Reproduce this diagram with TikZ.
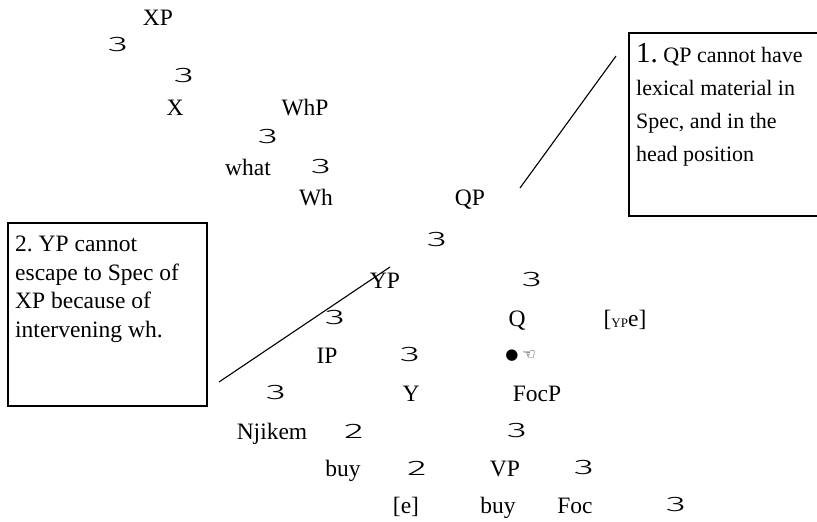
\documentclass[tikz,border=0pt]{standalone}
\usepackage{fontspec}
\usepackage{graphicx}
\setmainfont{Liberation Serif}
\newfontfamily\symfont{DejaVu Sans}
\IfFontExistsTF{Fira Sans Light}
  {\newfontfamily\glyfont{Fira Sans Light}}
  {\newfontfamily\glyfont{Liberation Sans}}
\newcommand{\brthree}{\scalebox{1.95}[1]{3}}
\newcommand{\brtwo}{\scalebox{1.95}[1]{2}}
\frenchspacing
\begin{document}
\begin{tikzpicture}[x=1pt,y=-1pt,
  lbl/.style={anchor=base,inner sep=0pt,font=\fontsize{23.5}{28}\selectfont},
  gl/.style={inner sep=0pt,font=\fontsize{21}{21}\glyfont},
  boxframe/.style={draw,line width=1.6pt,inner sep=0pt},
  boxtext/.style={anchor=north west,inner sep=0pt,align=left},
  pointer/.style={line width=1.1pt}]
\useasboundingbox (0,0) rectangle (817,522);
\clip (0,0) rectangle (817,522);

% tree labels
\node[lbl] (xp) at (158,25) {XP};
\node[gl] (t1) at (118,45) {\brthree};
\node[gl] (t2) at (184,76) {\brthree};
\node[lbl] (x) at (175,115) {X};
\node[lbl] (whp) at (305,115) {WhP};
\node[gl] (t3) at (268,137) {\brthree};
\node[lbl] (what) at (248,175) {what};
\node[gl] (t4) at (321,167) {\brthree};
\node[lbl] (wh) at (316,205) {Wh};
\node[lbl] (qp) at (470,205) {QP};
\node[gl] (t5) at (437,240) {\brthree};
\node[lbl] (yp) at (385,288) {YP};
\node[gl] (t6) at (532,280) {\brthree};
\node[gl] (t7) at (335,318) {\brthree};
\node[lbl] (q) at (517,326) {Q};
\node[lbl] (ype) at (625,326) {[\raisebox{-1.5pt}{\fontsize{13}{13}\selectfont YP}e]};
\node[lbl] (ip) at (327,363) {IP};
\node[gl] (t8) at (410,355) {\brthree};
\node[inner sep=0pt,font=\fontsize{15}{15}\symfont] (dot) at (512,356) {●};
\node[inner sep=0pt,font=\fontsize{15}{15}\symfont] (hand) at (529,355) {☜};
\node[gl] (t9) at (276,393) {\brthree};
\node[lbl] (y) at (411,401) {Y};
\node[lbl] (focp) at (537,401) {FocP};
\node[lbl] (njikem) at (272,439) {Njikem};
\node[gl] (d1) at (354,431) {\brtwo};
\node[gl] (t10) at (517,431) {\brthree};
\node[lbl] (buy1) at (343,476) {buy};
\node[gl] (d2) at (417,468) {\brtwo};
\node[lbl] (vp) at (505,476) {VP};
\node[gl] (t11) at (584,468) {\brthree};
\node[lbl] (e) at (406,513) {[e]};
\node[lbl] (buy2) at (498,513) {buy};
\node[lbl] (foc) at (575,513) {Foc};
\node[gl] (t12) at (676,505) {\brthree};

% box 1
\node[boxframe,anchor=north west,minimum width=220,minimum height=183] (b1) at (628,32) {};
\node[boxtext,font=\fontsize{22}{33}\selectfont] (b1t) at (636,43)
  {{\fontsize{29}{33}\selectfont 1.} QP cannot have\\lexical material in\\Spec, and in the\\head position};

% box 2
\node[boxframe,anchor=north west,minimum width=199,minimum height=183] (b2) at (7,222) {};
\node[boxtext,font=\fontsize{23.5}{28.5}\selectfont] (b2t) at (15,236)
  {2. YP cannot\\escape to Spec of\\XP because of\\intervening wh.};

% pointer lines
\coordinate (p1a) at (520,188);
\coordinate (p1b) at (616,56);
\coordinate (p2a) at (219,382);
\coordinate (p2b) at (390,267);
\draw[pointer] (p1a) -- (p1b);
\draw[pointer] (p2a) -- (p2b);
\end{tikzpicture}
\end{document}
